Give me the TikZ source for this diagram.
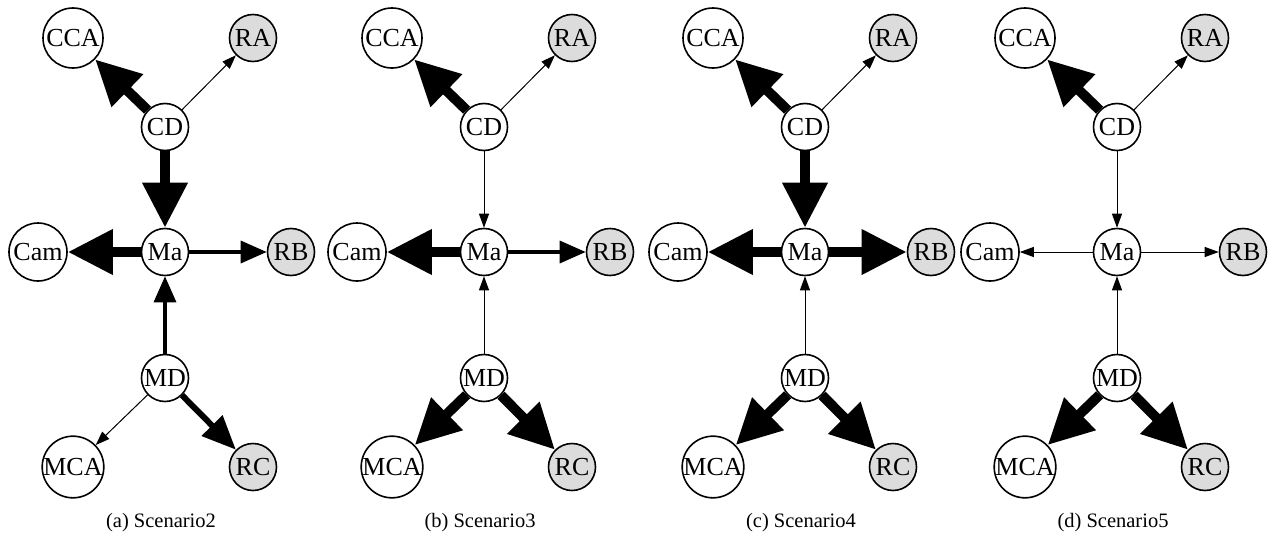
\documentclass[tikz,border=0pt]{standalone}
\usepackage{fontspec}
\setmainfont{Liberation Serif}
\usetikzlibrary{arrows.meta}
\pgfdeclarelayer{edges}
\pgfsetlayers{edges,main}
\definecolor{nodegray}{RGB}{220,220,220}
\tikzset{
  nd/.style={circle,draw=black,line width=1.6pt,fill=white,inner sep=0pt,minimum size=47pt,font=\fontsize{26}{26}\selectfont},
  ndbig/.style={nd,minimum size=60pt},
  ndcam/.style={nd,minimum size=58pt},
  ndg/.style={nd,fill=nodegray},
  e1/.style={line width=1pt,-{Triangle[length=14pt,width=10pt]}},
  e3/.style={line width=3.5pt,-{Triangle[length=26pt,width=22pt]}},
  e5/.style={line width=6pt,-{Triangle[length=34pt,width=28pt]}},
  e9/.style={line width=10pt,-{Triangle[length=45pt,width=43pt]}},
  captext/.style={font=\fontsize{20.5}{20.5}\selectfont,inner sep=0pt}
}
% #1 prefix, #2 x offset, #3 caption, #4 CD->Ma, #5 Ma->Cam, #6 Ma->RB, #7 MD->Ma, #8 MD->MCA, #9 MD->RC
\newcommand\drawpanel[9]{%
  \begin{scope}[xshift=#2pt]
    \node[ndbig] (#1cca) at (73,38) {CCA};
    \node[ndg]   (#1ra)  at (253,38) {RA};
    \node[nd]    (#1cd)  at (165,127) {CD};
    \node[ndcam] (#1cam) at (38,252) {Cam};
    \node[nd]    (#1ma)  at (165,252) {Ma};
    \node[ndg]   (#1rb)  at (291,252) {RB};
    \node[nd]    (#1md)  at (165,378) {MD};
    \node[ndbig] (#1mca) at (73,467) {MCA};
    \node[ndg]   (#1rc)  at (253,467) {RC};
    \node[captext] (#1cap) at (161,523) {#3};
    \begin{pgfonlayer}{edges}
      \draw[e9] (#1cd) -- (#1cca);
      \draw[e1] (#1cd) -- (#1ra);
      \draw[#4] (#1cd) -- (#1ma);
      \draw[#5] (#1ma) -- (#1cam);
      \draw[#6] (#1ma) -- (#1rb);
      \draw[#7] (#1md) -- (#1ma);
      \draw[#8] (#1md) -- (#1mca);
      \draw[#9] (#1md) -- (#1rc);
    \end{pgfonlayer}
  \end{scope}%
}
\begin{document}
\begin{tikzpicture}[x=1pt,y=-1pt]
  \path[use as bounding box] (0,0) rectangle (1274,546);
  \drawpanel{a}{0}{(a) Scenario2}{e9}{e9}{e3}{e3}{e1}{e5}
  \drawpanel{b}{319}{(b) Scenario3}{e1}{e9}{e3}{e1}{e9}{e9}
  \drawpanel{c}{640}{(c) Scenario4}{e9}{e9}{e9}{e1}{e9}{e9}
  \drawpanel{d}{952}{(d) Scenario5}{e1}{e1}{e1}{e1}{e9}{e9}
\end{tikzpicture}
\end{document}
